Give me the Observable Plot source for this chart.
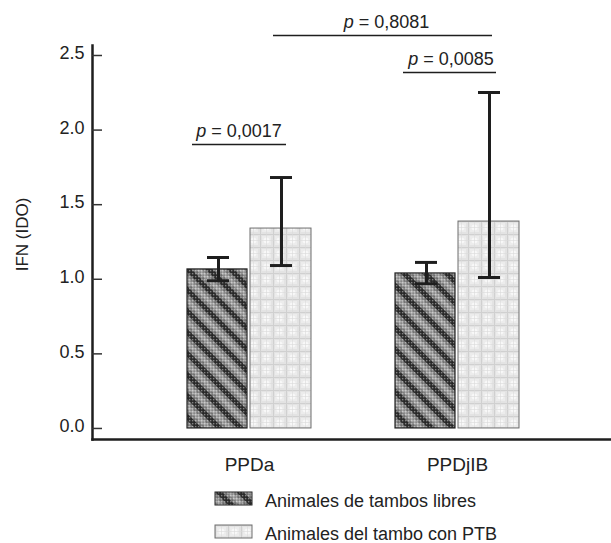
<!DOCTYPE html>
<html>
<head>
<meta charset="utf-8">
<script src="https://cdn.jsdelivr.net/npm/d3@7"></script>
<script src="https://cdn.jsdelivr.net/npm/@observablehq/plot@0.6"></script>
<style>
  body { margin: 0; background: #fff; }
  #wrap { width: 611px; height: 543px; position: relative; font-family: "Liberation Sans", Arial, sans-serif; }
  #wrap svg { display: block; }
</style>
</head>
<body>
<div id="wrap"></div>
<script>
// ---- data ----
const categories = ["PPDa", "PPDjIB"];
const seriesNames = ["Animales de tambos libres", "Animales del tambo con PTB"];
const libresMean = [1.066, 1.039];
const libresLow  = [0.99, 0.97];
const libresHigh = [1.146, 1.113];
const ptbMean = [1.340, 1.387];
const ptbLow  = [1.092, 1.012];
const ptbHigh = [1.682, 2.252];
const yTicks = [0, 0.5, 1, 1.5, 2, 2.5];
const yLabel = "IFN (IDO)";
const pLabels = ["p = 0,0017", "p = 0,0085", "p = 0,8081"];
const pFrom = ["PPDa", "PPDjIB", "PPDa"];
const pTo = ["PPDa", "PPDjIB", "PPDjIB"];
const pHeight = [1.903, 2.386, 2.634];

// ---- tables built from the arrays ----
const libres = categories.map((c, i) => ({cat: c, mean: libresMean[i], lo: libresLow[i], hi: libresHigh[i]}));
const ptb = categories.map((c, i) => ({cat: c, mean: ptbMean[i], lo: ptbLow[i], hi: ptbHigh[i]}));
const brackets = pLabels.map((label, i) => ({label, from: pFrom[i], to: pTo[i], h: pHeight[i]}));

const ink = "#1e1e1e";
const errW = 3;

const svg = Plot.plot({
  width: 611,
  height: 480,
  marginLeft: 92,
  marginRight: 0,
  marginTop: 45,
  marginBottom: 41,
  style: {fontFamily: "'Liberation Sans', Arial, sans-serif", fontSize: "18px", color: "#222", background: "#fff"},
  x: {domain: categories, paddingInner: 0.405, paddingOuter: 0.447, align: 0.51},
  y: {domain: [-0.074, 2.567]},
  marks: [
    // bars
    Plot.barY(libres, {x: "cat", y: "mean", insetRight: 64, fill: "url(#stripeL)"}),
    Plot.barY(libres, {x: "cat", y: "mean", insetRight: 64, fill: "url(#dotL)", stroke: "#222", strokeWidth: 1.2}),
    Plot.barY(ptb, {x: "cat", y: "mean", insetLeft: 63, fill: "url(#plaidP)", stroke: "#6e6e6e", strokeWidth: 1}),
    // error bars
    Plot.ruleX(libres, {x: "cat", y1: "lo", y2: "hi", dx: -31, stroke: ink, strokeWidth: errW}),
    Plot.tickY(libres, {x: "cat", y: "hi", insetLeft: 20, insetRight: 82, stroke: ink, strokeWidth: errW}),
    Plot.tickY(libres, {x: "cat", y: "lo", insetLeft: 20, insetRight: 82, stroke: ink, strokeWidth: errW}),
    Plot.ruleX(ptb, {x: "cat", y1: "lo", y2: "hi", dx: 32, stroke: ink, strokeWidth: errW}),
    Plot.tickY(ptb, {x: "cat", y: "hi", insetLeft: 83, insetRight: 19, stroke: ink, strokeWidth: errW}),
    Plot.tickY(ptb, {x: "cat", y: "lo", insetLeft: 83, insetRight: 19, stroke: ink, strokeWidth: errW}),
    // significance brackets
    Plot.ruleY([brackets[0]], {x1: "from", x2: "to", y: "h", insetLeft: 5, insetRight: 25, stroke: ink, strokeWidth: 1.5}),
    Plot.ruleY([brackets[1]], {x1: "from", x2: "to", y: "h", insetLeft: 8, insetRight: 23, stroke: ink, strokeWidth: 1.5}),
    Plot.ruleY([brackets[2]], {x1: "from", x2: "to", y: "h", insetLeft: 86, insetRight: 27, stroke: ink, strokeWidth: 1.5}),
    Plot.text([brackets[0]], {x: "to", y: "h", text: "label", dx: -10.5, dy: -8, lineAnchor: "bottom", fontSize: 18, fill: "#222"}),
    Plot.text([brackets[1]], {x: "to", y: "h", text: "label", dx: -6.5, dy: -8, lineAnchor: "bottom", fontSize: 18, fill: "#222"}),
    Plot.text([brackets[2]], {x: "to", y: "h", text: "label", dx: -71, dy: -8, lineAnchor: "bottom", fontSize: 18, fill: "#222"}),
    // axes
    Plot.frame({anchor: "left", stroke: ink, strokeWidth: 2.5}),
    Plot.frame({anchor: "bottom", stroke: ink, strokeWidth: 2.5}),
    Plot.tickY(yTicks, {y: d => d, insetRight: 509, stroke: "#333", strokeWidth: 1.5}),
    Plot.axisY(yTicks, {tickSize: 0, tickPadding: 8, tickFormat: d3.format(".1f"), fontSize: 18, dy: -2, label: null}),
    Plot.axisX({tickSize: 0, tickPadding: 18, fontSize: 19, label: null}),
    Plot.text([yLabel], {text: d => d, frameAnchor: "left", textAnchor: "middle", rotate: -90, dx: -70, dy: -8, fontSize: 17, fill: "#222"})
  ]
});

// pattern definitions
d3.select(svg).insert("defs", ":first-child").html(`
  <pattern id="stripeL" width="15" height="15" patternUnits="userSpaceOnUse" patternTransform="rotate(-45)">
    <rect width="15" height="15" fill="#858585"/>
    <rect x="0" width="5" height="15" fill="#303030"/>
    <rect x="8" width="4" height="15" fill="#a9a9a9"/>
  </pattern>
  <pattern id="dotL" width="3" height="3" patternUnits="userSpaceOnUse">
    <rect width="1.3" height="1.3" fill="#fff" fill-opacity="0.4"/>
    <rect x="1.5" y="1.5" width="1.3" height="1.3" fill="#000" fill-opacity="0.3"/>
  </pattern>
  <pattern id="plaidP" width="13" height="13" patternUnits="userSpaceOnUse">
    <rect width="13" height="13" fill="#e3e3e3"/>
    <rect x="2" y="2" width="9" height="9" fill="#ececec"/>
    <circle cx="6.5" cy="6.5" r="3" fill="#f8f8f8"/>
    <path d="M0,0.5H13M0.5,0V13" stroke="#d0d0d0" stroke-width="1"/>
    <path d="M0,6.5H13M6.5,0V13" stroke="#dadada" stroke-width="0.6"/>
  </pattern>
`);

// italic "p" in the p-value labels
d3.select(svg).selectAll("text").each(function() {
  const t = this.textContent;
  if (pLabels.includes(t)) {
    const sel = d3.select(this);
    sel.text(null);
    sel.append("tspan").attr("font-style", "italic").text(t.slice(0, 1));
    sel.append("tspan").text(t.slice(1));
  }
});

const wrap = document.getElementById("wrap");
wrap.appendChild(svg);

// legend below the chart
const leg = d3.create("svg").attr("width", 611).attr("height", 63)
  .style("font-family", "'Liberation Sans', Arial, sans-serif");
const swatchFills = [["url(#stripeL)", "url(#dotL)"], ["url(#plaidP)"]];
const swatchStroke = ["#222", "#6e6e6e"];
seriesNames.forEach((name, i) => {
  const g = leg.append("g").attr("transform", `translate(215,${12 + i * 33})`);
  swatchFills[i].forEach(f => g.append("rect").attr("width", 37).attr("height", 13).attr("fill", f));
  g.append("rect").attr("width", 37).attr("height", 13).attr("fill", "none").attr("stroke", swatchStroke[i]).attr("stroke-width", 1);
  g.append("text").attr("x", 50).attr("y", 14.5).attr("font-size", 18).attr("fill", "#222").text(name);
});
wrap.appendChild(leg.node());
</script>
</body>
</html>
